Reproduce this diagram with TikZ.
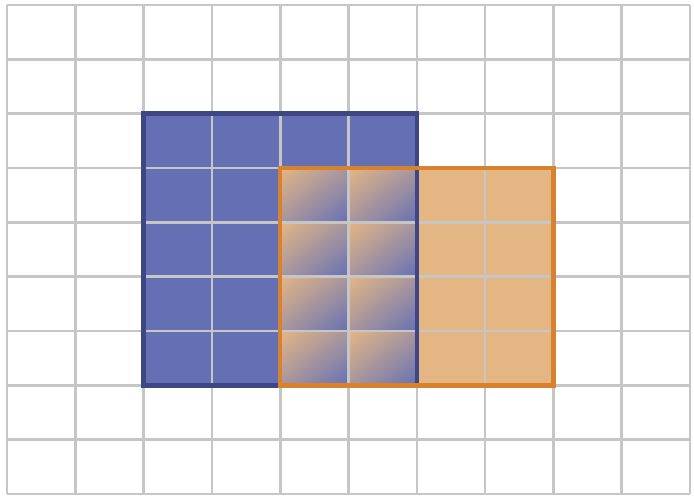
\documentclass[tikz,border=0pt]{standalone}
\usepackage{tikz}
\usetikzlibrary{shadings}
\definecolor{gridgray}{RGB}{198,198,198}
\definecolor{bluefill}{RGB}{101,112,180}
\definecolor{blueedge}{RGB}{62,70,134}
\definecolor{orangefill}{RGB}{228,182,132}
\definecolor{orangeedge}{RGB}{216,130,48}
\definecolor{mixcol}{RGB}{168,150,158}
\tikzset{
  gridline/.style={draw=gridgray, line width=2.6pt},
  blueedgeline/.style={draw=blueedge, line width=4.5pt},
  orangeedgeline/.style={draw=orangeedge, line width=4.5pt},
  mixcell/.style={upper left=orangefill, lower right=bluefill, upper right=mixcol, lower left=mixcol}
}
\begin{document}
\begin{tikzpicture}
\useasboundingbox[fill=white] (0,0) rectangle (694pt,-500pt);
\begin{scope}[x=68.3pt, y=-54.33pt, shift={(7pt,-5pt)}]
  % fills
  \fill[bluefill] (2,2) rectangle (6,7);
  \fill[orangefill] (4,3) rectangle (8,7);
  % overlap cells with gradient
  \foreach \i in {4,5} {
    \foreach \j in {3,4,5,6} {
      \shade[mixcell] (\i,\j) rectangle ++(1,1);
    }
  }
  % grid
  \foreach \i in {0,...,10} { \draw[gridline] (\i,0) -- (\i,9); }
  \foreach \j in {0,...,9} { \draw[gridline] (0,\j) -- (10,\j); }
  % borders
  \draw[blueedgeline] (2,2) rectangle (6,7);
  \draw[orangeedgeline] (4,3) rectangle (8,7);
\end{scope}
\end{tikzpicture}
\end{document}
